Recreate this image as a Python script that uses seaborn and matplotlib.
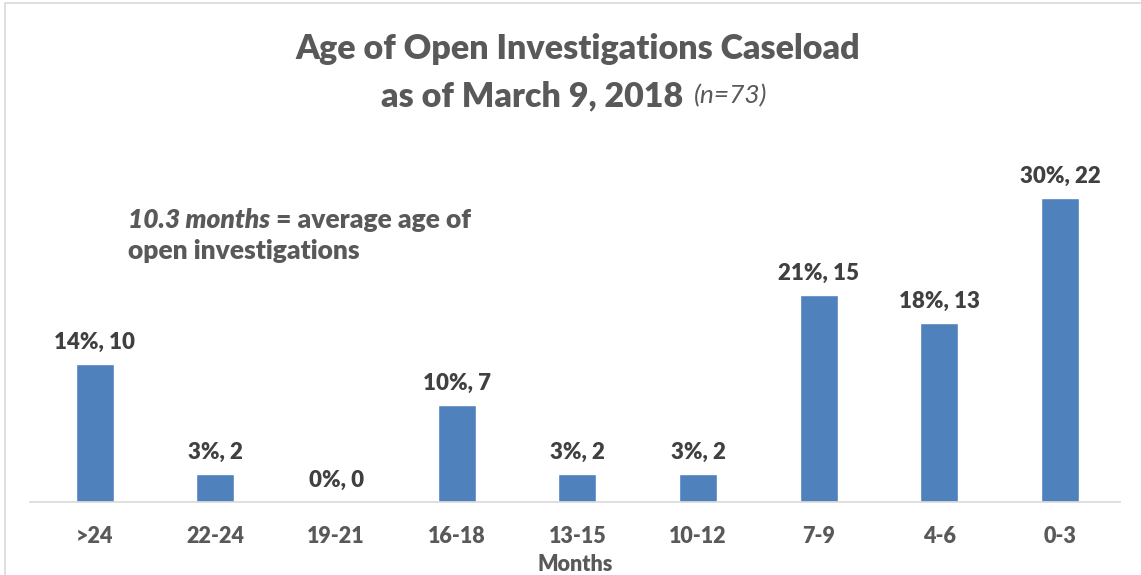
import seaborn as sns
import matplotlib.pyplot as plt
import pandas as pd

# data
months = [">24", "22-24", "19-21", "16-18", "13-15", "10-12", "7-9", "4-6", "0-3"]
counts = [10, 2, 0, 7, 2, 2, 15, 13, 22]
pcts = [14, 3, 0, 10, 3, 3, 21, 18, 30]

BLUE = "#4F81BD"
GREY = "#595959"
DARK = "#404040"

sns.set_theme(style="white")
plt.rcParams["font.family"] = ["Lato", "DejaVu Sans"]

df = pd.DataFrame({"months": months, "count": counts})

fig = plt.figure(figsize=(11.41, 5.75), dpi=100)
ax = fig.add_axes([0.026, 0.127, 0.956, 0.612])

sns.barplot(data=df, x="months", y="count", color=BLUE, width=0.315,
            saturation=1, ax=ax)

ax.set_xlim(-0.54, 8.5)
ax.set_ylim(0, 25.5)
ax.set_yticks([])
ax.set_ylabel("")
for s in ["top", "right", "left"]:
    ax.spines[s].set_visible(False)
ax.spines["bottom"].set_color("#D9D9D9")
ax.spines["bottom"].set_linewidth(1.2)

labels = ["%d%%, %d" % (p, c) for p, c in zip(pcts, counts)]
ax.bar_label(ax.containers[0], labels=labels, padding=8, fontsize=16,
             fontweight="heavy", color=DARK)

ax.set_xticks(range(len(months)))
ax.set_xticklabels(months, fontsize=15.5, fontweight="heavy", color=GREY)
ax.tick_params(axis="x", length=0, pad=17)
ax.set_xlabel("Months", fontsize=15.5, fontweight="heavy", color=GREY, labelpad=5)

# title
fig.text(0.506, 0.915, "Age of Open Investigations Caseload", ha="center",
         va="center", fontsize=24.5, fontweight="heavy", color=GREY)
fig.text(0.599, 0.833, "as of March 9, 2018", ha="right", va="center",
         fontsize=24.5, fontweight="heavy", color=GREY)
fig.text(0.608, 0.833, "(n=73)", ha="left", va="center",
         fontsize=19, style="italic", color=GREY)

# note
t1 = fig.text(0.112, 0.618, "10.3 months", ha="left", va="center",
              fontsize=19, fontweight="heavy", style="italic", color=GREY)
ax.annotate(" = average age of", xy=(1, 0.5), xycoords=t1, va="center",
            fontsize=19, fontweight="heavy", color=GREY)
fig.text(0.112, 0.563, "open investigations", ha="left", va="center",
         fontsize=19, fontweight="heavy", color=GREY)

# light frame around the chart area
fig.patches.append(plt.Rectangle((0.004, -0.01), 1.2, 1.004, transform=fig.transFigure,
                                 fill=False, edgecolor="#D9D9D9", linewidth=1.2))

fig.savefig("out.png", dpi=100)
